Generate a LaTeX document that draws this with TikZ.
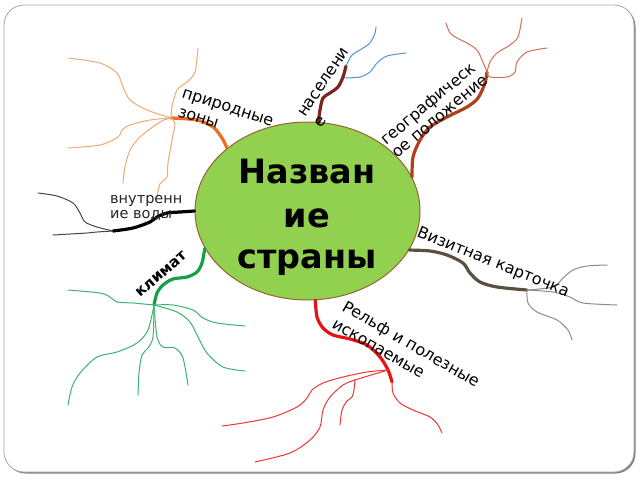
\documentclass[tikz,border=0pt]{standalone}
\usepackage{fontspec}
\setmainfont{DejaVu Sans}
\usetikzlibrary{shapes.geometric}
\definecolor{orT}{RGB}{236,112,32}
\definecolor{orL}{RGB}{238,170,115}
\definecolor{popT}{RGB}{122,38,30}
\definecolor{popL}{RGB}{80,150,210}
\definecolor{geoT}{RGB}{176,64,28}
\definecolor{geoL}{RGB}{205,115,85}
\definecolor{visT}{RGB}{90,80,64}
\definecolor{visL}{RGB}{140,140,140}
\definecolor{redT}{RGB}{228,20,20}
\definecolor{redL}{RGB}{236,55,55}
\definecolor{grT}{RGB}{20,160,70}
\definecolor{grL}{RGB}{60,180,110}
\definecolor{bkL}{RGB}{70,70,70}
\definecolor{elFill}{RGB}{146,208,80}
\definecolor{elDraw}{RGB}{150,100,50}
\begin{document}
\begin{tikzpicture}[x=1pt,y=-1pt,
  thickbr/.style={line width=3.2pt, line cap=round, line join=round},
  thinbr/.style={line width=1pt, line cap=round},
  lbl/.style={font=\fontsize{16}{19}\selectfont, inner sep=0pt, anchor=base west},
  lblsmall/.style={font=\fontsize{14.5}{17}\selectfont, text=black!85, inner sep=0pt, anchor=base west},
  ttl/.style={font=\bfseries\fontsize{33.5}{42}\selectfont, inner sep=0pt, anchor=base}]
\useasboundingbox (0,0) rectangle (640,480);
% frame
\fill[black!50, rounded corners=20pt] (5.5,6.5) rectangle (635.5,473.5);
\filldraw[fill=white, draw=black!35, line width=0.8pt, rounded corners=20pt] (4,5) rectangle (634,472);

% central ellipse
\node[ellipse, minimum width=225pt, minimum height=178pt, inner sep=0pt,
      fill=elFill, draw=elDraw, line width=1pt] (c) at (307.5,211) {};
\node[ttl] (t1) at (307,183) {Назван};
\node[ttl] (t2) at (307,227) {ие};
\node[ttl] (t3) at (307,268) {страны};

% hubs
\coordinate (hZ) at (171,118);
\coordinate (hN) at (346,66);
\coordinate (nb) at (344,78);
\coordinate (hG) at (487,72);
\coordinate (hV) at (527,290);
\coordinate (hR) at (388,370);
\coordinate (hRe) at (392,382);
\coordinate (hRb) at (355,380);
\coordinate (hK) at (154,305);
\coordinate (hW) at (113,231);

% природные зоны
\draw[thickbr, orT] plot[smooth] coordinates {(c.142) (222,138) (213,127) (197,120) (hZ)};
\draw[thinbr, orL] plot[smooth] coordinates {(hZ) (147,110) (130,100) (123,87) (117,73) (100,63) (68,58)};
\draw[thinbr, orL] plot[smooth] coordinates {(hZ) (150,120) (130,125) (122,130) (118,137) (100,145) (68,148)};
\draw[thinbr, orL] plot[smooth] coordinates {(hZ) (172,107) (177,90) (187,82) (195,72) (198,48)};
\draw[thinbr, orL] plot[smooth] coordinates {(hZ) (160,122) (140,137) (130,150) (125,167) (123,183)};
\draw[thinbr, orL] plot[smooth] coordinates {(hZ) (175,124) (172,140) (168,163) (167,177) (160,184) (157,197)};

% население
\draw[thickbr, popT] plot[smooth] coordinates {(c.83) (320,110) (323,98) (330,93) (338,87) (343,77) (hN)};
\draw[thinbr, popL] plot[smooth] coordinates {(hN) (352,55) (360,50) (370,43) (375,33) (376,27)};
\draw[thinbr, popL] plot[smooth] coordinates {(nb) (360,77) (370,72) (377,63) (387,56) (406,53)};

% географическое положение
\draw[thickbr, geoT] plot[smooth] coordinates {(c.18) (413,157) (420,140) (430,127) (447,117) (467,107) (478,98) (485,83) (hG)};
\draw[thinbr, geoL] plot[smooth] coordinates {(hG) (482,60) (477,50) (467,43) (457,38) (450,33) (446,23)};
\draw[thinbr, geoL] plot[smooth] coordinates {(hG) (490,62) (497,53) (510,45) (518,37) (522,18)};
\draw[thinbr, geoL] plot[smooth] coordinates {(hG) (490,77) (507,77) (515,72) (517,62) (527,52) (547,48)};

% Визитная карточка
\draw[thickbr, visT] plot[smooth] coordinates {(c.-21) (430,251) (447,255) (463,263) (470,273) (480,282) (497,287) (hV)};
\draw[thinbr, visL] plot[smooth] coordinates {(hV) (553,287) (563,278) (573,270) (587,266) (607,265)};
\draw[thinbr, visL] plot[smooth] coordinates {(hV) (553,292) (570,297) (583,303) (617,305)};
\draw[thinbr, visL] plot[smooth] coordinates {(hV) (528,303) (537,312) (557,320) (568,330) (572,340)};

% Рельф и полезные ископаемые
\draw[thickbr, redT] plot[smooth] coordinates {(c.-85) (317,317) (323,328) (333,335) (350,339) (367,345) (380,357) (hR) (hRe)};
\draw[thinbr, redL] plot[smooth] coordinates {(hR) (367,372) (343,377) (323,383) (312,390) (307,398) (297,407) (273,417) (243,423) (222,426)};
\draw[thinbr, redL] plot[smooth] coordinates {(hR) (hRb) (343,385) (330,397) (323,410) (320,427) (310,440) (290,453) (255,462)};
\draw[thinbr, redL] plot[smooth] coordinates {(hRb) (354,390) (352,397) (347,401) (342,410) (340,425)};
\draw[thinbr, redL] plot[smooth] coordinates {(hRe) (393,393) (400,403) (413,410) (430,417) (438,425) (442,433)};

% климат
\draw[thickbr, grT] plot[smooth] coordinates {(c.200.5) (202,263) (197,272) (187,277) (173,279) (163,285) (157,293) (hK)};
\draw[thinbr, grL] plot[smooth] coordinates {(hK) (133,303) (117,302) (110,297) (100,293) (68,290)};
\draw[thinbr, grL] plot[smooth] coordinates {(hK) (173,305) (193,310) (203,318) (217,323) (245,326)};
\draw[thinbr, grL] plot[smooth] coordinates {(hK) (177,312) (190,322) (198,337) (207,353) (223,367) (245,371)};
\draw[thinbr, grL] plot[smooth] coordinates {(hK) (148,330) (137,343) (117,352) (97,357) (80,373) (72,387) (68,405)};
\draw[thinbr, grL] plot[smooth] coordinates {(hK) (153,337) (148,348) (142,355) (139,373) (138,395)};
\draw[thinbr, grL] plot[smooth] coordinates {(hK) (157,337) (163,347) (175,348) (183,358) (188,385)};

% внутренние воды
\draw[thickbr, black] plot[smooth] coordinates {(c.180.5) (180,212) (167,213) (157,217) (150,222) (133,228) (hW)};
\draw[thinbr, bkL] plot[smooth] coordinates {(hW) (97,227) (85,222) (80,213) (73,203) (57,196) (38,193)};
\draw[thinbr, bkL] plot[smooth] coordinates {(hW) (97,232) (87,233) (70,234) (53,235)};

% labels
\node[lbl, rotate=-18] (l1a) at (181,97) {природные};
\node[lbl, rotate=-18] (l1b) at (177,116) {зоны};
\node[lbl, rotate=56] (l2a) at (305,118) {населени};
\node[lbl, rotate=56] (l2b) at (321,129) {е};
\node[lbl, rotate=40] (l3a) at (386,146) {географическ};
\node[lbl, rotate=40] (l3b) at (397,159) {ое положение};
\node[lbl, rotate=-22] (l4) at (416,236) {Визитная карточка};
\node[lbl, rotate=-30] (l5a) at (341,310) {Рельф и полезные};
\node[lbl, rotate=-30] (l5b) at (331,327) {ископаемые};
\node[lbl, rotate=41, font=\bfseries\fontsize{15}{18}\selectfont] (l6) at (140,298) {климат};
\node[lblsmall] (l7a) at (110,203) {внутренн};
\node[lblsmall] (l7b) at (110,218) {ие воды};
\end{tikzpicture}
\end{document}
